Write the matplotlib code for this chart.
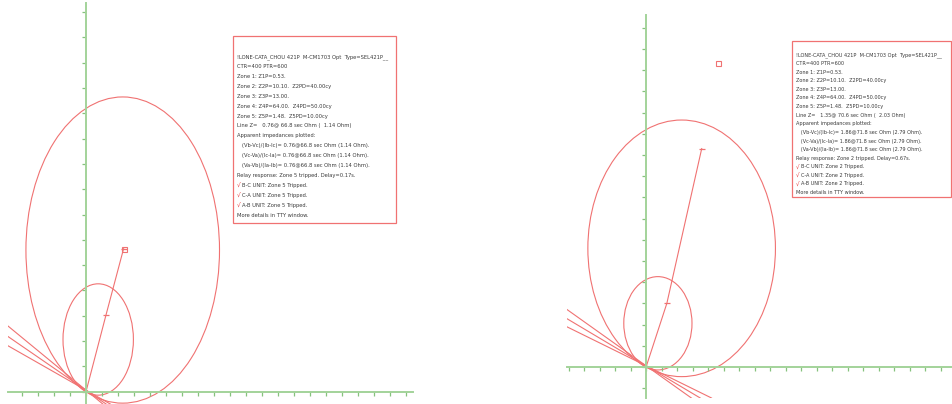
import math
import matplotlib
matplotlib.use("Agg")
import matplotlib.pyplot as plt
from matplotlib import font_manager as fm
from matplotlib.patches import Circle, Rectangle
from matplotlib.ticker import MultipleLocator

W, H = 953, 404

# relay settings (same for both events)
relay_id = "!LONE-CATA_CHOU 421P  M-CM1703 Opt  Type=SEL421P__"
ctr, ptr = 400, 600
zone_reach = ["0.53", "10.10", "13.00", "64.00", "1.48"]
zone_delay = [None, "40.00", None, "50.00", "10.00"]

# mho circles in plot units: diameter, angle (deg)
mho_diam = [4.4, 12.1]
mho_ang = [69.7, 67.7]

# blinder lines near the origin: slope, intercept
blinder_slope = [-0.52, -0.435, -0.36]
blinder_y0 = [0.06, 0.06, 0.06]

units = ["B-C", "C-A", "A-B"]
loops = ["(Vb-Vc)/(Ib-Ic)", "(Vc-Va)/(Ic-Ia)", "(Va-Vb)/(Ia-Ib)"]

# event 1: zone 5 trip
ev1_line_z = (0.76, 66.8, 1.14)
ev1_app_z = (0.76, 66.8, 1.14)
ev1_zone, ev1_delay = 5, 0.17
ev1_trace_x = [0.0, 1.25, 2.35]
ev1_trace_y = [0.0, 3.03, 5.65]
ev1_square = (2.35, 5.65)

# event 2: zone 2 trip
ev2_line_z = (1.35, 70.6, 2.03)
ev2_app_z = (1.86, 71.8, 2.79)
ev2_zone, ev2_delay = 2, 0.67
ev2_trace_x = [0.0, 1.34, 3.59]
ev2_trace_y = [0.0, 3.0, 10.3]
ev2_square = (4.65, 14.35)

RED = "#f07272"
GREEN = "#a3d39a"
TICKC = "#86c27d"
TXT = "#3a3a3a"


def narrow_font():
    regular = (400, "normal", "regular", "book")
    for e in fm.fontManager.ttflist:
        if e.name == "Liberation Sans Narrow" and e.style == "normal" and e.weight in regular:
            return fm.FontProperties(fname=e.fname)
    for e in fm.fontManager.ttflist:
        if ("condensed" in str(e.stretch) and e.style == "normal"
                and e.weight in regular and "Sans" in e.name and "Mono" not in e.name):
            return fm.FontProperties(fname=e.fname)
    return fm.FontProperties(family="Liberation Sans")


FP = narrow_font()


def info_lines(line_z, app_z, zone, delay):
    out = [(False, relay_id), (False, "CTR=%d PTR=%d" % (ctr, ptr))]
    for i, (r, d) in enumerate(zip(zone_reach, zone_delay)):
        s = "Zone %d: Z%dP=%s." % (i + 1, i + 1, r)
        if d:
            s += "  Z%dPD=%scy" % (i + 1, d)
        out.append((False, s))
    out.append((False, "Line Z=   %.2f@ %.1f sec Ohm (  %.2f Ohm)" % line_z))
    out.append((False, "Apparent impedances plotted:"))
    for lp in loops:
        out.append((False, "   %s= %.2f@%.1f sec Ohm (%.2f Ohm)." % ((lp,) + app_z)))
    out.append((False, "Relay response: Zone %d tripped. Delay=%.2fs." % (zone, delay)))
    for u in units:
        out.append((True, "%s UNIT: Zone %d Tripped." % (u, zone)))
    out.append((False, "More details in TTY window."))
    return out


def px_rect(l, t, r, b):
    return [l / W, 1 - b / H, (r - l) / W, (b - t) / H]


def panel(fig, box, xlim, ylim, trace_x, trace_y, square):
    ax = fig.add_axes(px_rect(*box))
    ax.set_xlim(*xlim)
    ax.set_ylim(*ylim)
    ax.patch.set_alpha(0)
    for s in ["top", "right"]:
        ax.spines[s].set_visible(False)
    for s in ["left", "bottom"]:
        ax.spines[s].set_position(("data", 0))
        ax.spines[s].set_color(GREEN)
        ax.spines[s].set_linewidth(1.4)
    ax.xaxis.set_major_locator(MultipleLocator(1))
    ax.yaxis.set_major_locator(MultipleLocator(1))
    ax.tick_params(labelbottom=False, labelleft=False, direction="out",
                   length=3.2, width=0.9, color=TICKC)

    for d, a in zip(mho_diam, mho_ang):
        c = (d / 2 * math.cos(math.radians(a)), d / 2 * math.sin(math.radians(a)))
        ax.add_patch(Circle(c, d / 2, fill=False, ec=RED, lw=0.8))
    for k, b in zip(blinder_slope, blinder_y0):
        ax.axline((0, b), slope=k, color=RED, lw=0.8)

    # impedance trajectory, dash at each plotted point after the origin
    ax.plot(trace_x, trace_y, color=RED, lw=0.8)
    ax.plot(trace_x[1:], trace_y[1:], ls="none", marker="_", ms=5, mew=0.9, color=RED)
    ax.plot([square[0]], [square[1]], marker="s", ms=3.6, mfc="none",
            mew=0.8, color=RED)
    return ax


def info_box(fig, rect, x0, y0, dy, lines, width):
    l, t, r, b = rect
    fig.add_artist(Rectangle((l / W, 1 - b / H), (r - l) / W, (b - t) / H,
                             transform=fig.transFigure, fill=False,
                             ec=RED, lw=0.9))
    texts = []
    for i, (chk, s) in enumerate(lines):
        y = 1 - (y0 + i * dy) / H
        if chk:
            texts.append(fig.text(x0 / W, y, "\u221a", color="#e83a3a", fontsize=5,
                                  family="DejaVu Sans", va="center", ha="left"))
            texts.append(fig.text((x0 + 5.5) / W, y, s, color=TXT, fontsize=5,
                                  fontproperties=FP, va="center", ha="left"))
        else:
            texts.append(fig.text(x0 / W, y, s, color=TXT, fontsize=5,
                                  fontproperties=FP, va="center", ha="left"))
    # size the text so that the header line spans the given width
    r_ = fig.canvas.get_renderer()
    w = texts[0].get_window_extent(r_).width
    for t_ in texts:
        t_.set_fontsize(5 * width / w)


fig = plt.figure(figsize=(W / 100, H / 100), dpi=100)
fig.patch.set_facecolor("white")

panel(fig, (8, 3, 413, 404), (-4.875, 20.44), (-0.486, 15.36),
      ev1_trace_x, ev1_trace_y, ev1_square)
panel(fig, (567, 15, 953, 398), (-5.1, 19.8), (-1.46, 16.6),
      ev2_trace_x, ev2_trace_y, ev2_square)

info_box(fig, (233, 36, 396, 223), 237, 56.7, 9.9,
         info_lines(ev1_line_z, ev1_app_z, ev1_zone, ev1_delay), 155)
info_box(fig, (792, 41, 951, 197), 796, 55, 8.6,
         info_lines(ev2_line_z, ev2_app_z, ev2_zone, ev2_delay), 148)

fig.savefig("out.png", dpi=100)
